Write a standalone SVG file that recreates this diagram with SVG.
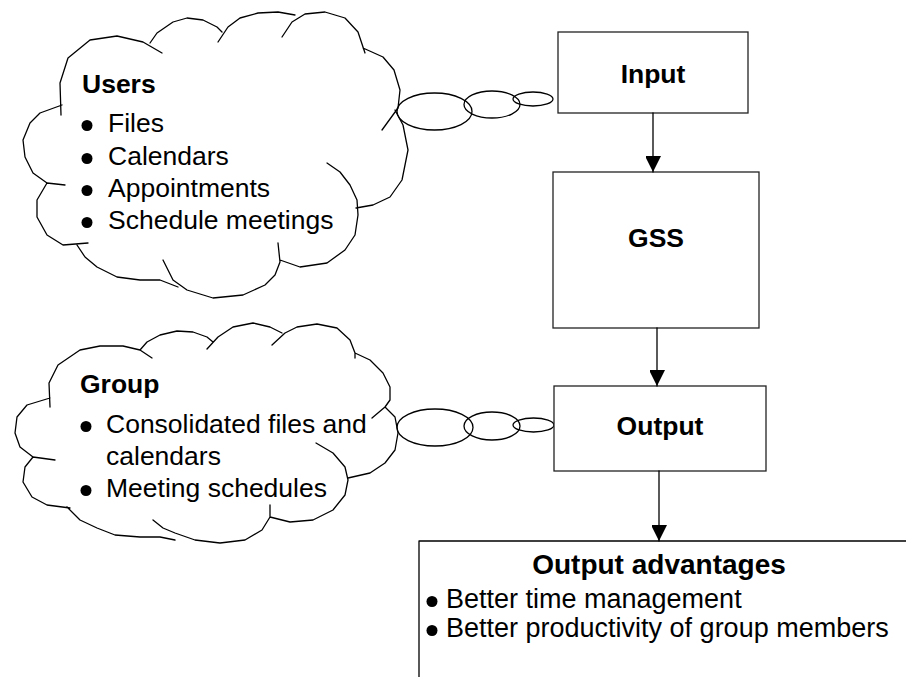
<svg xmlns="http://www.w3.org/2000/svg" width="906" height="677" viewBox="0 0 906 677">
<style>
.ln{fill:none;stroke:#000;stroke-width:1.3;stroke-linejoin:round;stroke-linecap:round}
.bx{fill:#fff;stroke:#222;stroke-width:1.3}
.t{font-family:"Liberation Sans",Arial,sans-serif;font-size:26.5px;fill:#000}
.b{font-weight:bold}
.big{font-size:27px}
.title{font-size:28px}
.dot{fill:#000}
</style>
<defs>
<marker id="ah" markerUnits="userSpaceOnUse" markerWidth="16" markerHeight="15" refX="16" refY="8" orient="auto">
<path d="M0,0 L16,8 L0,16 Z" fill="#000"/>
</marker>
</defs>
<rect width="906" height="677" fill="#fff"/>
<g id="users-cloud">
<path class="ln" d="M47,183 L33,173 L25,157 L23,140 L30,123 L40,113 L62,105 M61,115 L60,83 L68,58 L90,40 L117,36 L143,42 L162,53 M150,43 L157,33 L173,22 L187,18 L203,20 L217,27 L222,32 M218,42 L228,27 L240,18 L258,13 L278,12 L295,15 M282,37 L292,22 L305,14 L325,12 L345,18 L358,32 L365,53 M363,48 L383,57 L394,70 L400,90 L398,108 L382,130 M395,110 L403,125 L408,150 L402,180 L390,197 L373,205 L356,208 M327,163 L340,172 L350,185 L357,200 L358,215 L355,235 L345,250 L327,263 L300,267 L280,260 M278,243 L280,262 L275,275 L265,285 L243,295 L213,298 L187,290 L173,280 L163,260 M77,245 L85,257 L97,267 L117,277 L140,280 L160,280 L178,287 M88,243 L63,245 L47,235 L37,217 L37,200 L47,183 L65,185"/>
<text class="t b" x="82" y="93">Users</text>
<circle class="dot" cx="87" cy="125.5" r="5.5"/><text class="t" x="108" y="132">Files</text>
<circle class="dot" cx="87" cy="158.5" r="5.5"/><text class="t" x="108" y="165">Calendars</text>
<circle class="dot" cx="87" cy="190.5" r="5.5"/><text class="t" x="108" y="197">Appointments</text>
<circle class="dot" cx="87" cy="222.5" r="5.5"/><text class="t" x="108" y="229">Schedule meetings</text>
</g>
<g id="users-bubbles">
<ellipse class="ln" cx="434.5" cy="111.5" rx="37.5" ry="18.5"/>
<ellipse class="ln" cx="492" cy="104.5" rx="28" ry="13.5"/>
<ellipse class="ln" cx="533" cy="99" rx="20" ry="7"/>
</g>
<g id="group-cloud">
<path class="ln" d="M50,407 L49,383 L58,365 L80,350 L100,346 L123,346 L140,350 L152,358 M140,350 L147,342 L160,335 L177,331 L193,332 L207,337 L213,342 M207,349 L218,337 L233,327 L253,323 L270,327 L282,333 M272,345 L285,333 L297,327 L317,324 L337,328 L350,340 L355,353 L355,358 M355,353 L370,360 L383,373 L390,387 L390,400 L385,407 L372,418 M385,407 L395,417 L398,433 L395,450 L385,463 L370,473 L348,478 M316,443 L333,453 L345,467 L348,480 L345,495 L333,510 L313,520 L290,522 L270,517 M270,505 L270,517 L262,530 L245,540 L220,543 L195,540 L175,533 L163,528 L153,520 M67,507 L80,520 L97,528 L115,535 L140,537 L160,537 L175,540 M70,508 L47,505 L32,497 L23,482 L25,467 L33,457 L55,460 M33,457 L20,447 L15,433 L17,417 L27,405 L50,398"/>
<text class="t b" x="80" y="393">Group</text>
<circle class="dot" cx="86" cy="426.5" r="5.5"/><text class="t" x="106" y="433">Consolidated files and</text>
<text class="t" x="106" y="465">calendars</text>
<circle class="dot" cx="86" cy="490.5" r="5.5"/><text class="t" x="106" y="497">Meeting schedules</text>
</g>
<g id="group-bubbles">
<ellipse class="ln" cx="435" cy="427.5" rx="38" ry="18.5"/>
<ellipse class="ln" cx="492" cy="426" rx="28" ry="14"/>
<ellipse class="ln" cx="533.5" cy="425" rx="20.5" ry="7"/>
</g>
<g id="input">
<rect class="bx" x="558" y="32" width="190" height="81"/>
<text class="t b" x="653" y="83" text-anchor="middle">Input</text>
</g>
<g id="gss">
<rect class="bx" x="553" y="172" width="206" height="156"/>
<text class="t b" x="656" y="247" text-anchor="middle">GSS</text>
</g>
<g id="output">
<rect class="bx" x="554" y="386" width="212" height="85"/>
<text class="t b" x="660" y="435" text-anchor="middle">Output</text>
</g>
<g id="output-advantages">
<path class="ln" d="M419,677 L419,541 L906,541" stroke="#222"/>
<text class="t b title" x="659" y="574" text-anchor="middle">Output advantages</text>
<circle class="dot" cx="432" cy="601.5" r="5.5"/><text class="t big" x="446" y="608">Better time management</text>
<circle class="dot" cx="432" cy="630.5" r="5.5"/><text class="t big" x="446" y="637">Better productivity of group members</text>
</g>
<g id="connectors">
<line class="ln" x1="653" y1="113" x2="653" y2="172" marker-end="url(#ah)"/>
<line class="ln" x1="657" y1="328" x2="657" y2="386" marker-end="url(#ah)"/>
<line class="ln" x1="659" y1="471" x2="659" y2="541" marker-end="url(#ah)"/>
</g>
</svg>
